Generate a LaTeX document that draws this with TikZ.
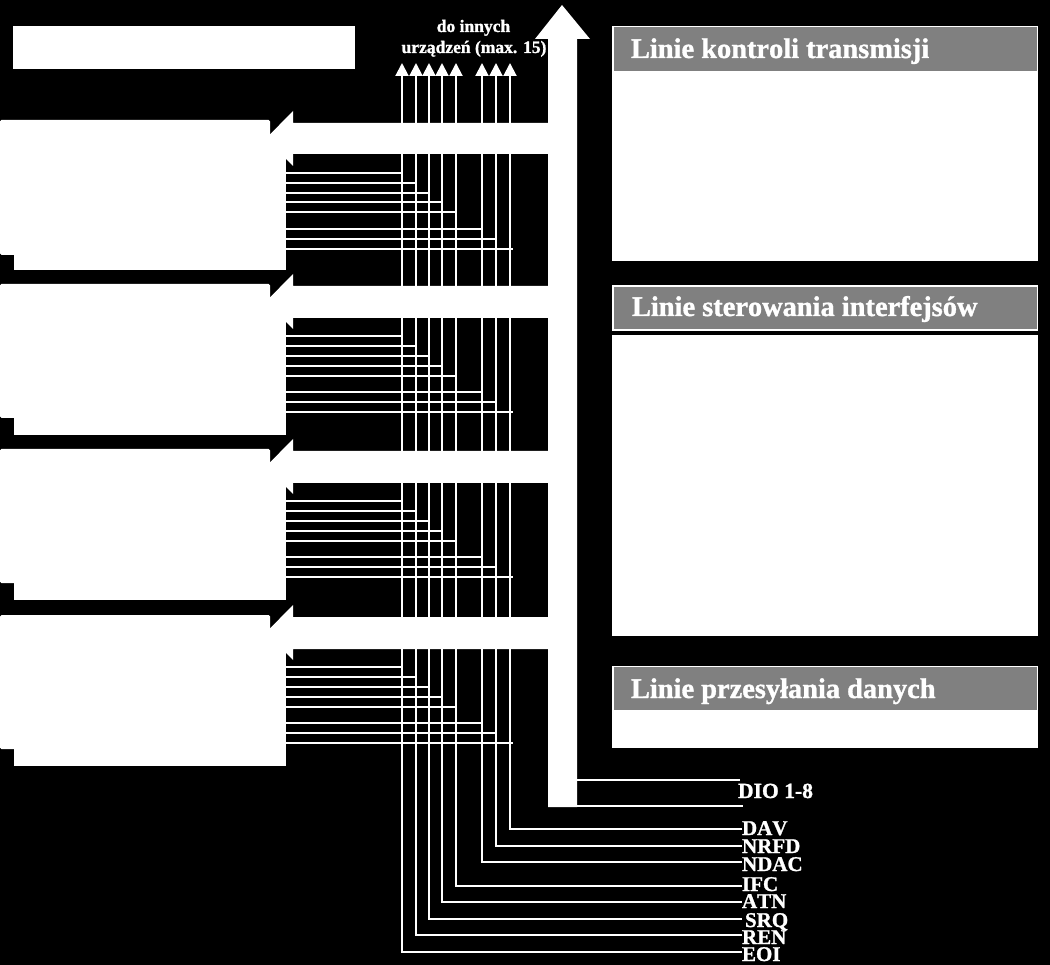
\documentclass[tikz,border=0pt]{standalone}
\usepackage{fontspec}
\setmainfont{Liberation Serif}[Kerning=Off,BoldFeatures={FakeBold=1.2}]
\usetikzlibrary{arrows.meta}
\tikzset{
  wire/.style={draw=white,line width=2pt,line join=miter},
  solidbox/.style={fill=white,draw=none,inner sep=0pt,outer sep=0pt,anchor=north west},
  band/.style={fill=black!50,draw=none,inner sep=0pt,outer sep=0pt,anchor=north west},
  signal/.style={text=white,inner sep=0pt,outer sep=0pt,anchor=base west,font=\fontsize{21pt}{23pt}\selectfont\bfseries},
  heading/.style={text=white,inner sep=0pt,outer sep=0pt,anchor=base west,font=\fontsize{28.4pt}{31pt}\selectfont\bfseries},
  note/.style={text=white,inner sep=0pt,outer sep=0pt,anchor=base,font=\fontsize{17.5pt}{19pt}\selectfont\bfseries},
  bushead/.style={-{Triangle[width=13pt,length=13pt]}}
}
\begin{document}
\begin{tikzpicture}[x=1pt,y=-1pt]
\useasboundingbox (0,0) rectangle (1050,965);
\fill[black] (0,0) rectangle (1050,965);
% title box
\node[solidbox,minimum width=342pt,minimum height=43pt] (title) at (13,26) {};
% main bus arrow
\fill[white] (548,807) -- (548,39) -- (535,39) -- (562,5) -- (590,39) -- (577,39) -- (577,807) -- cycle;
% DIO tails
\node[signal,font=\fontsize{21.6pt}{23pt}\selectfont\bfseries] (dio) at (738,798) {DIO 1-8};
\coordinate (dioA) at (740,780);
\coordinate (dioB) at (743,806);
\coordinate (shaft) at (577,793);
\draw[wire] (shaft |- dioA) -- (dioA);
\draw[wire] (shaft |- dioB) -- (dioB);
% devices
\foreach \n/\top/\bar/\low/\bot/\bh/\m in {1/120/123/255/270/31/79,2/284/286/418/435/32/80,3/449/451/583/600/32/80,4/615/617/749/766/32/80}{
  \fill[white] (548,\bar) -- (293,\bar) -- (293,\bar-12) -- (266,\bar+15.5) -- (293,\bar+43) -- (293,\bar+\bh) -- (548,\bar+\bh) -- cycle;
  \pgfmathsetlengthmacro{\hup}{\low-\top}
  \pgfmathsetlengthmacro{\hlow}{\bot-\bar-11}
  \node[solidbox,minimum width=270pt,minimum height=\hup,rounded corners=1.5pt] (up\n) at (0,\top) {};
  \node[solidbox,minimum width=272pt,minimum height=\hlow] (dev\n) at (14,\bar+11) {};
  \foreach \off/\bx in {50/403,60/417,70/430,\m/443,\m+10/457,106/483,116/497,126/513}{
    \coordinate (tap) at (\bx,\bar+\off);
    \draw[wire] (dev\n.east |- tap) -- (tap);
  }
}
% bus lines with labels
\foreach \x/\yb/\lab/\lx/\bl in {402/952/EOI/742/961,416/935/REN/742/944,429/919/SRQ/745/927,442/902/ATN/742/908,456/886/IFC/742/891,482/862/NDAC/742/871,496/846/NRFD/742/853,510/829/DAV/742/835}{
  \node[signal] (lab\lab) at (\lx,\bl) {\lab};
  \coordinate (end\lab) at (742,\yb);
  \coordinate (top\lab) at (\x,63);
  \draw[wire,bushead] (end\lab) -| (top\lab);
}
% note
\node[note] (noteA) at (473.5,32) {do innych};
\node[note] (noteB) at (474,53) {urządzeń (max. 15)};
% panels
\node[solidbox,minimum width=426pt,minimum height=235pt] (panelA) at (612,26) {};
\node[band,minimum width=423pt,minimum height=44pt] (bandA) at (613.5,27) {};
\node[heading] (headA) at (631,58) {Linie kontroli transmisji};
\node[solidbox,minimum width=426pt,minimum height=46pt] (frameB) at (612,285) {};
\node[band,minimum width=423pt,minimum height=42pt] (bandB) at (613.5,287) {};
\node[heading] (headB) at (632,316) {Linie sterowania interfejsów};
\node[solidbox,minimum width=426pt,minimum height=301pt] (panelB) at (612,335) {};
\node[solidbox,minimum width=426pt,minimum height=82pt] (panelC) at (612,666) {};
\node[band,minimum width=423pt,minimum height=43pt] (bandC) at (613.5,667) {};
\node[heading] (headC) at (631,698) {Linie przesyłania danych};
\end{tikzpicture}
\end{document}
